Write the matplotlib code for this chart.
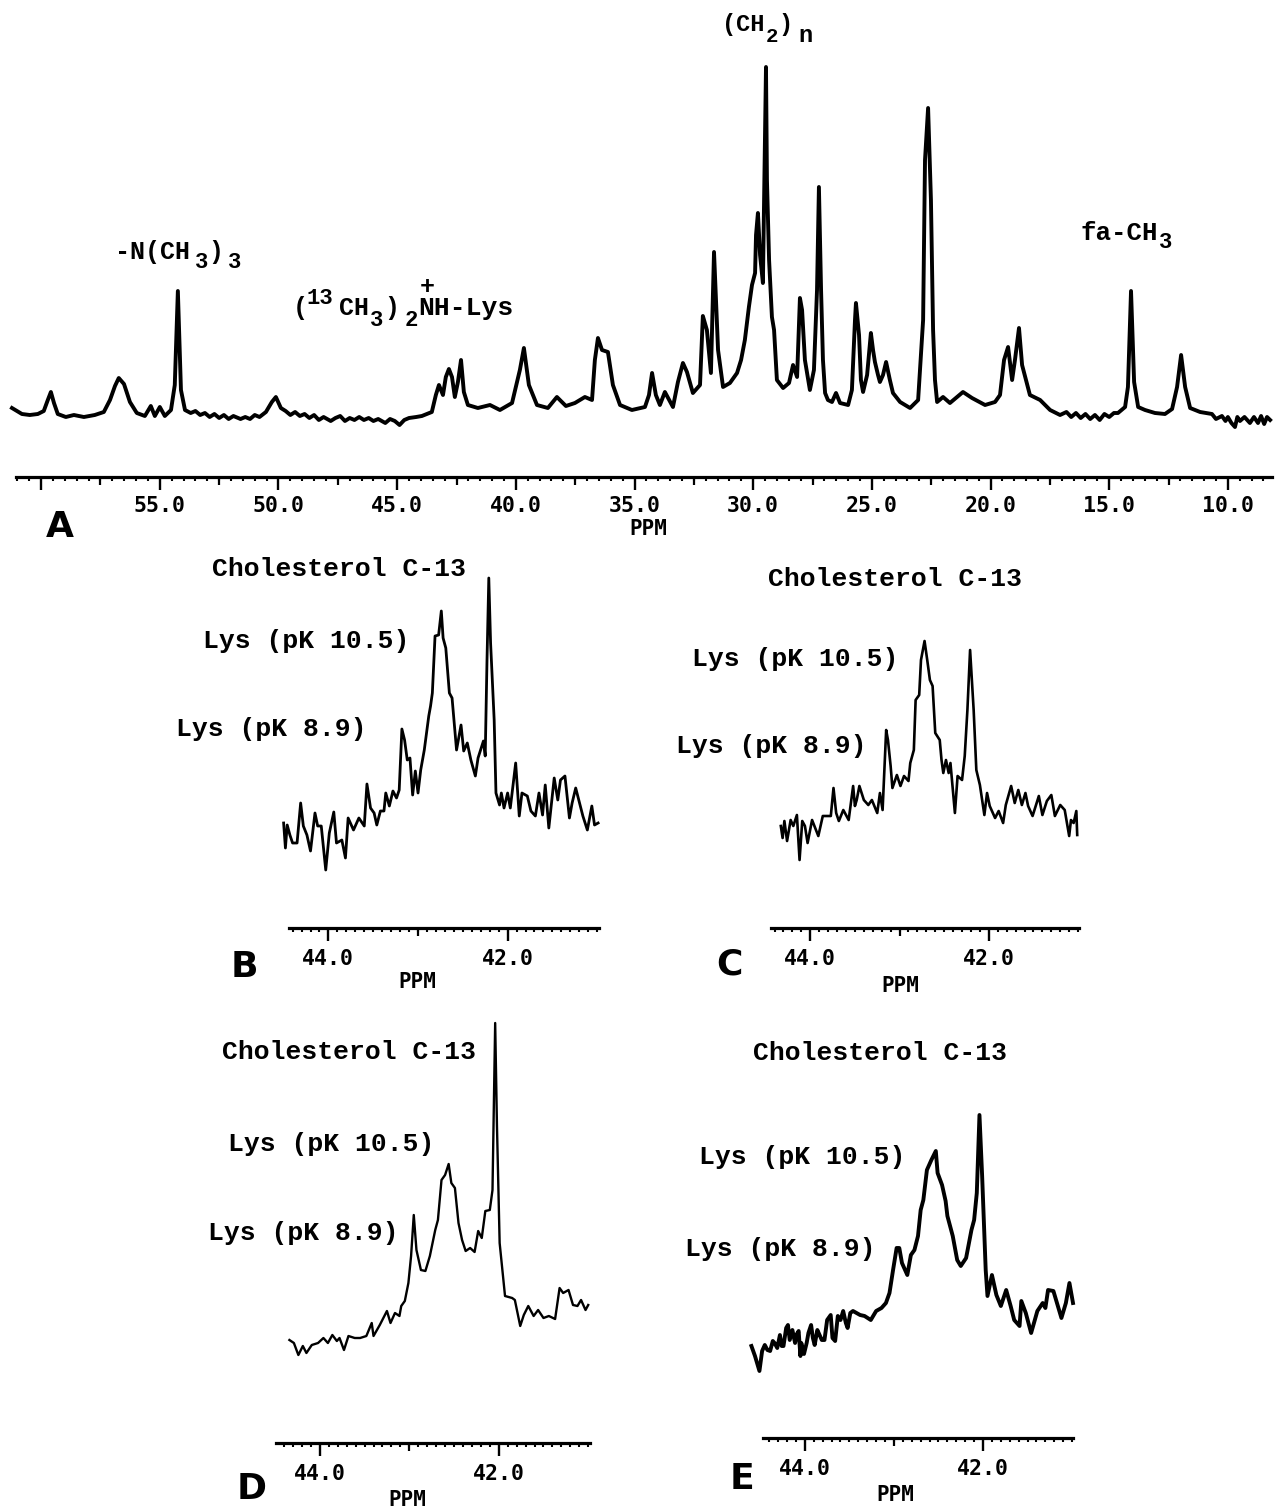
import matplotlib
matplotlib.use('Agg')
import matplotlib.pyplot as plt
from matplotlib.ticker import MultipleLocator

W, H = 1276, 1509

# panel A, ppm and height above the axis line (px)
ppm_a = [61.23,61.02,60.81,60.48,60.14,59.89,59.72,59.59,59.46,59.30,58.96,58.62,58.20,57.74,57.36,57.10,56.89,56.73,56.51,56.26,
         55.97,55.63,55.38,55.21,55.00,54.79,54.53,54.37,54.24,54.11,
         53.94,53.7,53.5,53.3,53.1,52.9,52.7,52.5,52.3,52.1,51.9,51.6,51.4,51.2,51.0,50.8,50.53,
         50.28,50.11,49.90,
         49.7,49.5,49.3,49.1,48.9,48.7,48.5,48.3,48.1,47.8,47.6,47.4,47.2,47.0,46.8,46.6,46.4,46.2,46.0,45.8,45.5,45.3,45.1,44.9,44.7,44.5,44.2,43.96,
         43.54,43.37,43.24,43.07,42.95,42.82,42.69,42.57,42.44,
         42.31,42.19,42.02,41.60,41.09,40.67,40.16,39.83,39.66,39.45,39.11,38.65,38.27,37.89,37.51,37.09,36.79,36.67,36.54,36.37,
         36.12,35.91,35.61,35.11,34.56,34.39,34.26,34.10,33.93,33.72,33.38,33.17,32.96,32.79,32.54,32.24,32.12,31.95,31.78,31.65,
         31.48,31.27,30.98,30.68,30.51,30.35,30.18,30.05,29.92,29.88,29.80,29.71,29.59,29.54,29.46,29.42,29.33,29.21,29.12,29.00,
         28.74,28.49,28.32,28.15,28.03,27.94,27.82,27.61,27.44,27.31,27.23,27.14,27.06,26.97,26.85,26.68,26.51,26.34,26.00,25.84,
         25.71,25.67,25.54,25.46,25.37,25.20,25.04,24.95,24.87,24.74,24.66,24.53,24.40,24.24,24.11,23.81,23.39,23.05,22.84,22.76,
         22.63,22.51,22.42,22.34,22.25,22.00,21.71,21.41,21.16,20.78,20.23,19.81,19.60,19.43,19.26,19.09,18.97,18.80,18.67,18.34,
         17.91,17.49,
         17.07,16.8,16.6,16.4,16.2,16,15.8,15.6,15.4,15.2,15,14.8,14.63,
         14.33,14.21,14.08,13.95,13.78,13.49,13.07,12.65,12.35,12.14,11.97,11.80,11.59,11.17,
         10.67,10.5,10.25,10.1,10,9.85,9.7,9.6,9.49,9.3,9.07,8.9,8.73,8.6,8.47,8.35,8.22]
int_a = [69,66,63,62,63,66,77,85,74,63,60,62,60,62,65,77,91,99,93,75,
         64,61,71,61,70,61,67,92,186,87,
         67,64,66,62,64,60,63,59,62,58,61,58,60,58,62,60,65,
         75,80,69,
         66,62,65,61,63,59,62,57,60,56,59,61,56,59,57,60,57,59,56,58,54,58,56,52,57,59,60,61,
         65,82,92,82,100,108,100,80,95,
         117,85,72,69,72,67,74,107,129,92,72,69,80,71,74,80,77,117,139,127,
         125,92,72,67,70,82,104,82,72,85,70,95,114,105,84,92,161,147,104,225,
         127,90,94,104,117,137,170,192,204,242,264,222,194,277,410,297,217,160,147,97,
         89,94,112,100,179,167,117,87,107,187,290,187,117,84,77,75,84,74,72,87,
         157,174,142,97,85,102,144,127,115,102,95,102,115,97,84,75,69,77,157,317,
         369,277,147,97,75,80,74,80,85,79,72,75,82,117,130,97,117,149,112,82,
         77,67,
         62,65,60,64,59,63,58,62,57,63,60,64,64,
         70,90,186,95,70,67,64,63,68,90,122,90,69,65,
         63,58,61,56,60,54,50,60,56,60,54,60,54,61,53,60,57]

ppm_b = [44.50,44.48,44.46,44.43,44.40,44.35,44.31,44.28,44.24,44.20,44.15,44.12,44.08,44.03,43.99,43.94,43.91,43.85,43.81,43.78,
         43.72,43.66,43.60,43.57,43.53,43.49,43.46,43.42,43.38,43.36,43.32,43.28,43.24,43.21,43.18,43.15,43.12,43.09,43.06,43.03,
         43.00,42.97,42.93,42.88,42.86,42.84,42.81,42.77,42.74,42.72,42.69,42.65,42.62,42.57,42.52,42.49,42.45,42.41,42.36,42.33,
         42.27,42.25,42.23,42.21,42.19,42.15,42.13,42.09,42.07,42.04,42.00,41.97,41.91,41.87,41.84,41.78,41.74,41.69,41.65,41.61,
         41.58,41.54,41.48,41.44,41.41,41.36,41.31,41.28,41.24,41.16,41.11,41.06,41.03,40.99]
int_b = [105,80,103,93,85,85,125,102,93,77,115,102,102,58,95,116,85,88,70,110,
         98,110,102,144,120,115,103,117,117,135,122,137,130,138,199,188,168,170,133,157,
         135,158,178,212,222,235,292,293,317,290,280,235,230,178,203,177,185,168,152,170,
         187,172,268,350,285,208,135,123,135,120,135,120,165,112,135,132,117,112,135,113,
         143,100,150,128,148,152,110,125,140,112,98,122,103,105]

ppm_c = [44.33,44.31,44.29,44.26,44.22,44.19,44.15,44.12,44.09,44.06,44.03,43.98,43.91,43.86,43.80,43.77,43.74,43.71,43.68,43.63,
         43.57,43.52,43.50,43.48,43.45,43.40,43.35,43.31,43.25,43.22,43.19,43.15,43.13,43.10,43.08,43.03,42.99,42.95,42.90,42.88,
         42.84,42.82,42.78,42.76,42.72,42.69,42.66,42.63,42.60,42.55,42.53,42.51,42.48,42.45,42.43,42.38,42.35,42.30,42.27,42.24,
         42.21,42.17,42.14,42.10,42.05,42.02,41.99,41.93,41.89,41.84,41.81,41.75,41.71,41.67,41.63,41.59,41.56,41.51,41.44,41.40,
         41.35,41.30,41.26,41.20,41.15,41.10,41.08,41.05,41.02,41.01]
int_c = [102,90,107,87,108,102,113,68,107,102,85,108,92,112,112,112,140,115,107,118,
         108,142,122,128,142,128,123,128,115,135,118,198,188,162,140,153,142,152,147,165,
         178,228,233,268,287,268,248,242,195,188,168,155,168,155,165,115,152,148,172,218,
         278,218,158,143,113,135,122,110,117,105,123,142,125,138,123,135,122,112,132,113,
         127,133,112,123,118,92,108,105,117,93]

ppm_d = [44.34,44.29,44.24,44.19,44.15,44.09,44.02,43.96,43.91,43.86,43.81,43.78,43.73,43.68,43.61,43.55,43.48,43.42,43.40,43.33,
         43.25,43.21,43.16,43.11,43.09,43.05,43.01,42.98,42.95,42.92,42.87,42.82,42.77,42.71,42.68,42.64,42.60,42.56,42.53,42.49,
         42.45,42.41,42.37,42.32,42.27,42.23,42.19,42.15,42.10,42.07,42.04,42.02,41.99,41.93,41.85,41.82,41.76,41.72,41.67,41.61,
         41.56,41.50,41.44,41.37,41.32,41.28,41.22,41.17,41.12,41.08,41.03,41.00]
int_d = [103,100,88,97,90,98,100,105,100,108,102,105,93,107,105,105,107,120,107,118,
         132,120,130,127,137,142,160,187,228,193,173,172,187,213,223,263,268,279,260,255,
         220,203,192,195,191,212,205,232,233,253,420,317,200,147,145,143,117,128,137,127,
         133,125,127,124,155,150,153,138,137,143,133,138]

ppm_e = [44.60,44.56,44.51,44.48,44.45,44.42,44.39,44.36,44.34,44.31,44.28,44.26,44.24,44.21,44.19,44.17,44.14,44.11,44.09,44.07,
         44.05,44.04,44.01,43.98,43.96,43.93,43.91,43.89,43.86,43.83,43.81,43.78,43.75,43.71,43.69,43.66,43.63,43.60,43.57,43.54,
         43.52,43.49,43.46,
         43.38,43.33,43.26,43.20,43.14,43.09,43.05,43.01,42.97,42.94,42.91,42.85,42.81,42.77,42.73,42.70,
         42.67,42.63,42.58,42.53,42.51,42.46,42.42,42.40,42.34,42.29,42.25,42.19,42.13,42.10,42.07,42.04,42.01,41.97,41.95,41.90,
         41.85,41.80,41.74,41.69,41.65,41.59,41.57,41.52,41.46,41.39,41.33,41.30,41.27,41.21,41.16,41.12,41.07,41.03,40.99]
int_e = [92,82,67,87,93,88,87,97,95,90,103,92,92,110,113,98,108,95,104,107,
         82,95,84,95,105,113,100,93,108,102,98,98,118,123,100,97,122,118,127,115,
         110,125,127,
         123,122,118,127,130,135,145,168,190,190,175,163,183,188,202,228,
         238,268,278,287,265,253,237,222,202,178,172,180,208,218,245,323,262,168,142,163,
         143,132,148,132,118,112,137,125,105,127,135,130,148,147,132,120,135,155,135]

ticks_a = [60, 55, 50, 45, 40, 35, 30, 25, 20, 15, 10]
labels_a = ['', '55.0', '50.0', '45.0', '40.0', '35.0', '30.0', '25.0', '20.0', '15.0', '10.0']
mid_a = [57.5, 52.5, 47.5, 42.5, 37.5, 32.5, 27.5, 22.5, 17.5, 12.5]
ticks_s = [44, 42]
labels_s = ['44.0', '42.0']
mid_s = [43]

MONO = 'Liberation Mono'
fig = plt.figure(figsize=(W / 100, H / 100), dpi=100, facecolor='white')


def txt(x, y, s, size=19, ha='center', family=MONO):
    fig.text(x / W, 1 - y / H, s, fontsize=size, ha=ha, va='center', family=family,
             fontweight='bold', color='black')


def panel(x0, x1, axis_y, xlim, ppm, inten, lw, ticks, labels, mid, minor_step, pad=4):
    top = axis_y - 460
    ax = fig.add_axes([x0 / W, 1 - axis_y / H, (x1 - x0) / W, (axis_y - top) / H])
    ax.patch.set_alpha(0)
    ax.set_xlim(xlim)
    ax.set_ylim(0, axis_y - top)
    ax.plot(ppm, inten, color='black', lw=lw, solid_joinstyle='round', clip_on=False)
    for s in ['top', 'left', 'right']:
        ax.spines[s].set_visible(False)
    ax.spines['bottom'].set_linewidth(2.3)
    ax.set_yticks([])
    ax.set_xticks(ticks)
    ax.set_xticklabels(labels, family='DejaVu Sans Mono', fontsize=15.5, fontweight='bold')
    ax.xaxis.set_minor_locator(MultipleLocator(minor_step))
    ax.tick_params(axis='x', which='major', length=9.5, width=1.7, pad=pad)
    ax.tick_params(axis='x', which='minor', length=3.2, width=1.5)
    ax.vlines(mid, -8, 0, color='black', lw=1.6, clip_on=False)
    return ax


panel(16, 1272, 477, (61.06, 8.14), ppm_a, int_a, 2.8, ticks_a, labels_a, mid_a, 0.5)
panel(289, 599, 928, (44.44, 40.98), ppm_b, int_b, 2.0, ticks_s, labels_s, mid_s, 0.1, pad=5.5)
panel(771, 1079, 928, (44.44, 40.99), ppm_c, int_c, 1.9, ticks_s, labels_s, mid_s, 0.1, pad=5.5)
panel(276, 590, 1443, (44.49, 40.98), ppm_d, int_d, 1.7, ticks_s, labels_s, mid_s, 0.1, pad=5.5)
panel(763, 1073, 1438, (44.47, 40.99), ppm_e, int_e, 2.8, ticks_s, labels_s, mid_s, 0.1, pad=5.5)

# panel letters
for x, y, s in [(60, 527, 'A'), (244, 967, 'B'), (729, 964, 'C'), (252, 1489, 'D'), (742, 1479, 'E')]:
    txt(x, y, s, size=26, family='DejaVu Sans')

# PPM captions
for x, y in [(648, 529), (417, 982), (900, 986), (407, 1500), (895, 1495)]:
    txt(x, y, 'PPM', size=15, family='DejaVu Sans Mono')

# peak labels of the small panels
for x, y in [(339, 569), (895, 579), (349, 1052), (880, 1053)]:
    txt(x, y, 'Cholesterol C-13')
for x, y in [(306, 641), (795, 659), (331, 1144), (802, 1157)]:
    txt(x, y, 'Lys (pK 10.5)')
for x, y in [(271, 729), (771, 746), (303, 1233), (780, 1249)]:
    txt(x, y, 'Lys (pK 8.9)')

# peak labels of panel A
txt(722, 25, '(CH', ha='left', size=17)
txt(772, 37, '2', size=15)
txt(786, 25, ')', size=17)
txt(805, 36, 'n', size=17)

txt(115, 252, '-N(CH', ha='left', size=18)
txt(202, 263, '3', size=16)
txt(216, 252, ')', size=18)
txt(235, 263, '3', size=16)

txt(300, 308, '(', size=18)
txt(320, 299, '13', size=16)
txt(339, 308, 'CH', ha='left', size=18)
txt(377, 320, '3', size=16)
txt(392, 308, ')', size=18)
txt(411, 320, '2', size=16)
txt(418, 308, 'NH-Lys', ha='left', size=19)
txt(427, 287, '+', size=18)

txt(1081, 233, 'fa-CH', ha='left', size=18.5)
txt(1166, 243, '3', size=16)

fig.savefig('out.png', dpi=100, facecolor='white')
